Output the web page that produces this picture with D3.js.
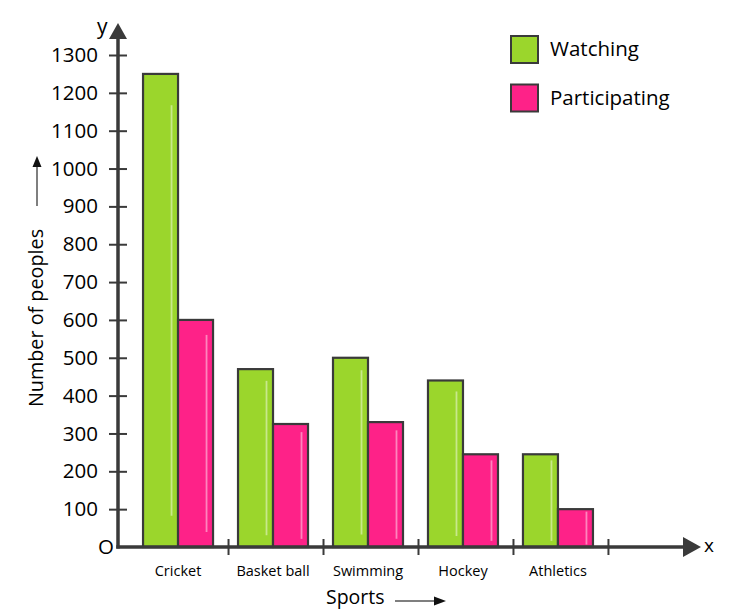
<!DOCTYPE html>
<html>
<head>
<meta charset="utf-8">
<script src="https://cdn.jsdelivr.net/npm/d3@7"></script>
<style>
  body { margin: 0; background: #fff; }
  text { font-family: "Open Sans", sans-serif; fill: #000; }
</style>
</head>
<body>
<div id="chart"></div>
<script>
// Data
const sports = ["Cricket", "Basket ball", "Swimming", "Hockey", "Athletics"];
const watching = [1250, 470, 500, 440, 245];
const participating = [600, 325, 330, 245, 100];
const seriesNames = ["Watching", "Participating"];
const yTicks = [100, 200, 300, 400, 500, 600, 700, 800, 900, 1000, 1100, 1200, 1300];

const colors = ["#9bd62c", "#fe2288"];
const axisColor = "#3a3a3a";

const W = 750, H = 615;
const originX = 118, originY = 547;

const svg = d3.select("#chart")
  .append("svg")
  .attr("width", W)
  .attr("height", H);

// Scales
const y = d3.scaleLinear()
  .domain([0, 1300])
  .range([originY, 55]);

const x = d3.scaleBand()
  .domain(sports)
  .range([130.5, 605.5])
  .paddingInner(0.263)
  .paddingOuter(0.132);

const xInner = d3.scaleBand()
  .domain(seriesNames)
  .range([0, x.bandwidth()]);

// Bars
const rows = sports.map((s, i) => ({ sport: s, values: [watching[i], participating[i]] }));

const groups = svg.selectAll(".group")
  .data(rows)
  .enter()
  .append("g")
  .attr("class", "group")
  .attr("transform", d => `translate(${x(d.sport)},0)`);

const bars = groups.selectAll(".bar")
  .data(d => d.values.map((v, j) => ({ name: seriesNames[j], value: v, j })))
  .enter();

bars.append("rect")
  .attr("class", "bar")
  .attr("x", d => xInner(d.name))
  .attr("y", d => y(d.value))
  .attr("width", xInner.bandwidth())
  .attr("height", d => originY - y(d.value))
  .attr("fill", d => colors[d.j])
  .attr("stroke", axisColor)
  .attr("stroke-width", 2.2);

// light shine line inside each bar
bars.append("line")
  .attr("x1", d => xInner(d.name) + xInner.bandwidth() - 6.5)
  .attr("x2", d => xInner(d.name) + xInner.bandwidth() - 6.5)
  .attr("y1", d => y(d.value) + (originY - y(d.value)) * 0.066)
  .attr("y2", d => originY - (originY - y(d.value)) * 0.066)
  .attr("stroke", "#fff")
  .attr("stroke-opacity", 0.45)
  .attr("stroke-width", 1.8);

// Y axis
const yAxis = d3.axisLeft(y)
  .tickValues(yTicks)
  .tickFormat(d3.format("d"))
  .tickSize(9)
  .tickPadding(11);

const yg = svg.append("g")
  .attr("transform", `translate(${originX},0)`)
  .call(yAxis);

yg.select(".domain").remove();
yg.selectAll(".tick line")
  .attr("x1", -9)
  .attr("x2", 9)
  .attr("stroke", axisColor)
  .attr("stroke-width", 2);
yg.selectAll(".tick text")
  .style("font-size", "20.5px")
  .attr("fill", "#000");

svg.append("line")
  .attr("x1", originX).attr("x2", originX)
  .attr("y1", originY + 1.5).attr("y2", 38)
  .attr("stroke", axisColor)
  .attr("stroke-width", 3.5);

svg.append("path")
  .attr("d", `M${originX},23 L${originX - 9},39 L${originX + 9},39 Z`)
  .attr("fill", axisColor);

// X axis
const xAxis = d3.axisBottom(x)
  .tickSize(0)
  .tickPadding(19);

const xg = svg.append("g")
  .attr("transform", `translate(0,${originY})`)
  .call(xAxis);

xg.select(".domain").remove();
xg.selectAll(".tick text")
  .style("font-size", "14.5px")
  .attr("fill", "#000");

svg.append("line")
  .attr("x1", originX - 1.75).attr("x2", 685)
  .attr("y1", originY).attr("y2", originY)
  .attr("stroke", axisColor)
  .attr("stroke-width", 3.5);

svg.append("path")
  .attr("d", `M701,${originY} L683,${originY - 10} L683,${originY + 10} Z`)
  .attr("fill", axisColor);

// tick marks between the groups
const step = x.step();
svg.selectAll(".xtick")
  .data(sports)
  .enter()
  .append("line")
  .attr("class", "xtick")
  .attr("x1", d => x(d) + x.bandwidth() + step * x.paddingInner() / 2 + 3)
  .attr("x2", d => x(d) + x.bandwidth() + step * x.paddingInner() / 2 + 3)
  .attr("y1", originY - 8)
  .attr("y2", originY + 8)
  .attr("stroke", axisColor)
  .attr("stroke-width", 2);

// Axis letters
svg.append("text")
  .attr("x", 97).attr("y", 34)
  .style("font-size", "21px")
  .text("y");

svg.append("text")
  .attr("x", 704).attr("y", 552)
  .style("font-size", "19px")
  .text("x");

svg.append("text")
  .attr("x", 114).attr("y", 554)
  .attr("text-anchor", "end")
  .style("font-size", "20.5px")
  .text("O");

// Axis titles
svg.append("text")
  .attr("transform", "translate(43,318) rotate(-90)")
  .attr("text-anchor", "middle")
  .style("font-size", "19.8px")
  .text("Number of peoples");

svg.append("line")
  .attr("x1", 37).attr("x2", 37)
  .attr("y1", 206).attr("y2", 164)
  .attr("stroke", "#555")
  .attr("stroke-width", 1.5);
svg.append("path")
  .attr("d", "M37,156 L32.5,167 L41.5,167 Z")
  .attr("fill", "#111");

svg.append("text")
  .attr("x", 326).attr("y", 604)
  .style("font-size", "19.5px")
  .text("Sports");

svg.append("line")
  .attr("x1", 395).attr("x2", 436)
  .attr("y1", 601).attr("y2", 601)
  .attr("stroke", "#555")
  .attr("stroke-width", 1.5);
svg.append("path")
  .attr("d", "M446,601 L434,596.5 L434,605.5 Z")
  .attr("fill", "#111");

// Legend
const legend = svg.selectAll(".legend")
  .data(seriesNames)
  .enter()
  .append("g")
  .attr("class", "legend")
  .attr("transform", (d, i) => `translate(511,${36 + i * 48.5})`);

legend.append("rect")
  .attr("width", 27)
  .attr("height", 27)
  .attr("fill", (d, i) => colors[i])
  .attr("stroke", axisColor)
  .attr("stroke-width", 2);

legend.append("text")
  .attr("x", 39)
  .attr("y", 20)
  .style("font-size", "20.5px")
  .text(d => d);
</script>
</body>
</html>
